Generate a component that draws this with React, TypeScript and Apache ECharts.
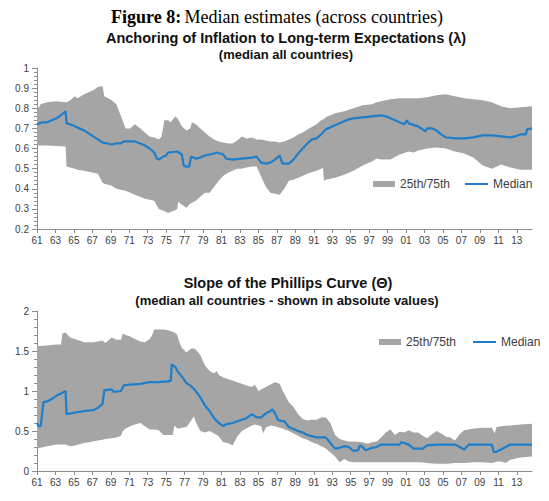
import React, { useEffect, useRef } from "react";
import * as echarts from "echarts";

const BASE_YEAR = 1961;
const END_YEAR = 2014.65;
const xTickYears = [
  1961, 1963, 1965, 1967, 1969, 1971, 1973, 1975, 1977, 1979, 1981, 1983, 1985, 1987,
  1989, 1991, 1993, 1995, 1997, 1999, 2001, 2003, 2005, 2007, 2009, 2011, 2013,
];

// ---- Top chart: Anchoring of inflation (lambda) ----
const topBandYears = [
  1961.0, 1961.4, 1962.1, 1963.1, 1964.1, 1964.2, 1964.6, 1965.1, 1965.4, 1966.1,
  1967.1, 1967.6, 1968.1, 1968.3, 1969.1, 1969.6, 1970.1, 1970.6, 1971.1, 1971.6,
  1972.2, 1972.7, 1973.2, 1973.7, 1974.2, 1974.5, 1974.8, 1975.2, 1975.5, 1976.0,
  1976.2, 1976.3, 1976.7, 1977.2, 1977.6, 1977.8, 1978.2, 1978.7, 1979.2, 1979.7,
  1980.2, 1980.7, 1981.2, 1981.7, 1982.2, 1982.7, 1983.2, 1983.7, 1984.3, 1984.8,
  1985.3, 1985.8, 1986.3, 1986.8, 1987.3, 1987.8, 1988.3, 1988.8, 1989.3, 1989.8,
  1990.3, 1991.3, 1991.8, 1992.0, 1992.1, 1992.3, 1993.3, 1994.3, 1995.3, 1996.3,
  1997.3, 1997.8, 1998.3, 1999.3, 2000.3, 2001.3, 2001.8, 2002.3, 2003.3, 2004.3,
  2005.3, 2006.3, 2007.3, 2008.3, 2009.3, 2010.3, 2011.3, 2012.3, 2013.4, 2014.65,
];
const topUpper = [
  0.79, 0.82, 0.83, 0.835, 0.83, 0.83, 0.84, 0.86, 0.85, 0.87,
  0.89, 0.905, 0.91, 0.86, 0.84, 0.82, 0.76, 0.7, 0.7, 0.72,
  0.7, 0.68, 0.66, 0.655, 0.645, 0.66, 0.74, 0.74, 0.73, 0.76,
  0.75, 0.745, 0.71, 0.69, 0.7, 0.73, 0.72, 0.7, 0.68, 0.66,
  0.645, 0.635, 0.63, 0.625, 0.625, 0.64, 0.66, 0.65, 0.655, 0.645,
  0.645, 0.64, 0.635, 0.635, 0.63, 0.635, 0.645, 0.655, 0.67, 0.68,
  0.695, 0.72, 0.74, 0.745, 0.745, 0.755, 0.775, 0.785, 0.8, 0.815,
  0.82, 0.83, 0.835, 0.845, 0.85, 0.85, 0.85, 0.85, 0.855, 0.865,
  0.87, 0.86, 0.85, 0.845, 0.84, 0.83, 0.81, 0.8, 0.805, 0.81,
];
const topLower = [
  0.615, 0.615, 0.615, 0.613, 0.61, 0.51, 0.505, 0.5, 0.495, 0.49,
  0.48, 0.475, 0.43, 0.425, 0.415, 0.4, 0.395, 0.39, 0.38, 0.37,
  0.36, 0.35, 0.345, 0.34, 0.3, 0.295, 0.29, 0.28, 0.285, 0.295,
  0.3, 0.335, 0.32, 0.305, 0.325, 0.33, 0.34, 0.36, 0.38, 0.38,
  0.41, 0.44, 0.465, 0.48, 0.49, 0.5, 0.5, 0.505, 0.51, 0.51,
  0.46, 0.41, 0.38, 0.375, 0.37, 0.4, 0.44, 0.445, 0.455, 0.465,
  0.475, 0.49, 0.5, 0.505, 0.44, 0.445, 0.455, 0.47, 0.49, 0.515,
  0.535, 0.55, 0.545, 0.545, 0.57, 0.585, 0.58, 0.59, 0.6, 0.605,
  0.6, 0.585, 0.575, 0.555, 0.515, 0.5, 0.52, 0.505, 0.495, 0.495,
];
const topMedYears = [
  1961.0, 1961.6, 1962.1, 1962.6, 1963.1, 1963.6, 1964.1, 1964.2, 1964.6, 1965.1,
  1965.6, 1966.1, 1966.6, 1967.1, 1967.6, 1968.1, 1968.6, 1969.1, 1969.6, 1970.1,
  1970.4, 1971.1, 1971.6, 1972.2, 1972.7, 1973.2, 1973.7, 1974.0, 1974.2, 1974.7,
  1975.0, 1975.2, 1976.2, 1976.7, 1976.9, 1977.2, 1977.5, 1977.7, 1978.2, 1978.7,
  1979.2, 1980.2, 1980.5, 1981.2, 1981.5, 1982.2, 1983.2, 1984.3, 1984.8, 1985.3,
  1985.8, 1986.3, 1986.8, 1987.3, 1987.6, 1988.3, 1988.8, 1989.3, 1990.3, 1990.8,
  1991.3, 1991.8, 1992.3, 1993.3, 1994.3, 1994.8, 1995.3, 1996.3, 1997.3, 1998.3,
  1998.8, 1999.3, 2000.3, 2000.8, 2001.1, 2001.3, 2002.3, 2002.8, 2003.1, 2003.3,
  2003.8, 2004.3, 2004.8, 2005.3, 2006.3, 2007.3, 2008.3, 2009.3, 2010.3, 2011.3,
  2012.3, 2012.8, 2013.4, 2014.0, 2014.1, 2014.65,
];
const topMedian = [
  0.72, 0.73, 0.73, 0.74, 0.75, 0.765, 0.785, 0.725, 0.72, 0.71,
  0.7, 0.69, 0.675, 0.66, 0.645, 0.63, 0.625, 0.62, 0.625, 0.625,
  0.635, 0.635, 0.635, 0.625, 0.615, 0.6, 0.58, 0.55, 0.545, 0.56,
  0.565, 0.58, 0.585, 0.57, 0.515, 0.51, 0.51, 0.56, 0.55, 0.555,
  0.565, 0.575, 0.58, 0.57, 0.55, 0.545, 0.55, 0.555, 0.56, 0.53,
  0.525, 0.53, 0.545, 0.565, 0.525, 0.525, 0.545, 0.575, 0.625, 0.645,
  0.65, 0.67, 0.695, 0.715, 0.735, 0.745, 0.75, 0.755, 0.76, 0.765,
  0.76, 0.75, 0.73, 0.72, 0.74, 0.725, 0.71, 0.695, 0.685, 0.7,
  0.7, 0.69, 0.67, 0.655, 0.65, 0.65, 0.655, 0.665, 0.665, 0.66,
  0.655, 0.66, 0.67, 0.67, 0.695, 0.7,
];

// ---- Bottom chart: Slope of the Phillips curve (theta) ----
const botBandYears = [
  1961.0, 1962.1, 1963.1, 1963.6, 1963.75, 1964.1, 1964.6, 1965.1, 1966.1, 1967.1,
  1967.6, 1968.1, 1968.4, 1969.1, 1969.6, 1970.1, 1970.3, 1970.6, 1971.1, 1971.6,
  1972.2, 1972.7, 1973.2, 1973.5, 1973.7, 1974.2, 1974.7, 1975.2, 1975.7, 1975.9,
  1976.2, 1976.4, 1976.7, 1977.2, 1977.7, 1978.0, 1978.2, 1978.7, 1979.2, 1979.7,
  1980.2, 1980.5, 1980.7, 1981.2, 1981.7, 1982.2, 1982.7, 1983.2, 1983.7, 1984.3,
  1984.6, 1985.0, 1985.3, 1985.5, 1985.8, 1986.3, 1986.8, 1987.3, 1987.6, 1988.3,
  1988.8, 1989.3, 1989.8, 1990.3, 1990.8, 1991.3, 1991.8, 1992.3, 1992.8, 1993.3,
  1993.8, 1994.3, 1994.8, 1995.3, 1996.3, 1996.8, 1997.3, 1997.8, 1998.3, 1998.8,
  1999.3, 1999.8, 2000.3, 2000.8, 2001.3, 2001.8, 2002.3, 2002.8, 2003.3, 2003.8,
  2004.3, 2004.8, 2005.3, 2005.8, 2006.3, 2006.8, 2007.3, 2008.3, 2009.3, 2010.3,
  2010.6, 2010.8, 2011.3, 2011.8, 2012.3, 2013.4, 2014.65,
];
const botUpper = [
  1.56, 1.57, 1.58, 1.58, 1.72, 1.73, 1.67, 1.65, 1.61, 1.61,
  1.62, 1.63, 1.6, 1.67, 1.64, 1.64, 1.72, 1.7, 1.68, 1.65,
  1.62, 1.61, 1.65, 1.7, 1.77, 1.77, 1.77, 1.76, 1.74, 1.73,
  1.7, 1.62, 1.54, 1.48, 1.53, 1.53, 1.52, 1.45, 1.32, 1.25,
  1.22, 1.25, 1.2, 1.17, 1.15, 1.13, 1.11, 1.09, 1.07, 1.05,
  1.08, 1.0, 1.02, 1.03, 1.05, 1.08, 1.11, 1.09, 1.01, 0.86,
  0.8, 0.71, 0.65, 0.63, 0.64, 0.64, 0.67, 0.67, 0.6, 0.45,
  0.4, 0.38, 0.37, 0.37, 0.36, 0.34, 0.36, 0.37, 0.42, 0.48,
  0.52, 0.45, 0.49, 0.48, 0.51, 0.48, 0.48, 0.44, 0.41, 0.46,
  0.5, 0.47, 0.43, 0.42, 0.38, 0.46, 0.51, 0.53, 0.54, 0.54,
  0.47, 0.55, 0.56, 0.565, 0.57, 0.58, 0.59,
];
const botLower = [
  0.28, 0.31, 0.33, 0.33, 0.33, 0.33, 0.31, 0.32, 0.35, 0.37,
  0.38, 0.39, 0.4, 0.41, 0.42, 0.44, 0.5, 0.53, 0.56, 0.58,
  0.6, 0.56, 0.52, 0.52, 0.52, 0.51, 0.45, 0.45, 0.45, 0.57,
  0.53, 0.53, 0.54, 0.55, 0.63, 0.68, 0.62, 0.5, 0.48, 0.5,
  0.47, 0.45, 0.43, 0.36, 0.35, 0.32, 0.43, 0.5, 0.53, 0.57,
  0.58, 0.57, 0.56, 0.47, 0.54, 0.57, 0.56, 0.54, 0.53, 0.5,
  0.47, 0.44, 0.41, 0.39, 0.36, 0.34, 0.31, 0.28, 0.23, 0.18,
  0.11, 0.15, 0.12, 0.11, 0.11, 0.11, 0.11, 0.11, 0.11, 0.11,
  0.11, 0.11, 0.11, 0.11, 0.11, 0.11, 0.11, 0.105, 0.1, 0.095,
  0.09, 0.09, 0.09, 0.095, 0.1, 0.1, 0.1, 0.11, 0.11, 0.1,
  0.11, 0.12, 0.12, 0.1, 0.14, 0.17, 0.18,
];
const botMedYears = [
  1961.0, 1961.2, 1961.4, 1961.7, 1962.1, 1962.6, 1963.1, 1963.6, 1964.1, 1964.2,
  1965.1, 1966.1, 1967.1, 1967.6, 1968.1, 1968.3, 1969.1, 1969.3, 1970.1, 1970.4,
  1971.1, 1972.2, 1973.2, 1974.2, 1975.2, 1975.5, 1975.6, 1976.0, 1976.2, 1976.7,
  1977.2, 1977.7, 1978.2, 1978.7, 1979.2, 1979.7, 1980.2, 1980.7, 1981.2, 1981.4,
  1981.7, 1982.2, 1983.2, 1983.7, 1984.3, 1984.8, 1985.3, 1985.8, 1986.3, 1986.5,
  1986.8, 1987.1, 1987.3, 1987.8, 1988.3, 1989.3, 1989.8, 1990.3, 1991.3, 1992.3,
  1992.8, 1993.3, 1993.8, 1994.3, 1994.8, 1995.3, 1995.8, 1996.0, 1996.3, 1996.6,
  1997.3, 1997.8, 1998.3, 1999.3, 2000.3, 2000.5, 2001.3, 2001.8, 2002.3, 2002.8,
  2003.3, 2004.3, 2005.3, 2006.3, 2006.8, 2007.3, 2007.8, 2008.3, 2009.3, 2010.3,
  2010.5, 2010.8, 2011.3, 2011.8, 2012.3, 2013.4, 2014.65,
];
const botMedian = [
  0.6, 0.56, 0.56, 0.86, 0.87, 0.9, 0.94, 0.97, 1.0, 0.71,
  0.73, 0.75, 0.76, 0.79, 0.84, 1.01, 1.02, 0.99, 1.0, 1.07,
  1.08, 1.09, 1.11, 1.11, 1.12, 1.13, 1.33, 1.3, 1.25, 1.18,
  1.1, 1.06, 1.0, 0.92, 0.82, 0.75, 0.66, 0.6, 0.56, 0.58,
  0.59, 0.6, 0.64, 0.66, 0.71, 0.67, 0.67, 0.72, 0.75, 0.77,
  0.72, 0.64, 0.63, 0.62, 0.55, 0.5, 0.48, 0.45, 0.42, 0.42,
  0.35, 0.28, 0.29, 0.31, 0.3, 0.25, 0.26, 0.32, 0.3, 0.26,
  0.29, 0.3, 0.33, 0.33, 0.33, 0.36, 0.33, 0.28, 0.28, 0.28,
  0.32, 0.33, 0.33, 0.33, 0.3, 0.27, 0.33, 0.33, 0.33, 0.33,
  0.24, 0.24, 0.27, 0.3, 0.33, 0.33, 0.33,
];

const BAND_NAME = "25th/75th";
const MEDIAN_NAME = "Median";
const GREY = "#a5a5a5";
const BLUE = "#1f7ec9";
const AXIS = "#8c8c8c";
const SANS = "'Liberation Sans', Arial, sans-serif";
const SERIF = "'Liberation Serif', 'Times New Roman', serif";

export default function App() {
  const ref = useRef<HTMLDivElement>(null);

  useEffect(() => {
    if (!ref.current) return;
    const chart = echarts.init(ref.current, null, { renderer: "svg" });

    const off = (x: number) => +(x - BASE_YEAR).toFixed(3);
    const pts = (xs: number[], ys: number[]) => xs.map((x, i) => [off(x), ys[i]]);
    const tickValues = xTickYears.map(off);

    const xAxis = (gridIndex: number) => ({
      type: "value",
      gridIndex,
      min: 0,
      max: off(END_YEAR),
      interval: 2,
      axisLine: { show: true, onZero: false, lineStyle: { color: AXIS, width: 1 } },
      axisTick: { show: true, length: 4, lineStyle: { color: AXIS }, customValues: tickValues },
      splitLine: { show: false },
      axisLabel: {
        color: "#404040",
        fontSize: 10,
        fontFamily: SANS,
        margin: 6,
        customValues: tickValues,
        formatter: (v: number) => String((BASE_YEAR + Math.round(v)) % 100).padStart(2, "0"),
      },
    });

    const yAxis = (gridIndex: number, min: number, max: number, interval: number) => ({
      type: "value",
      gridIndex,
      min,
      max,
      interval,
      axisLine: { show: true, lineStyle: { color: AXIS, width: 1 } },
      axisTick: { show: true, length: 5, lineStyle: { color: AXIS } },
      minorTick: { show: true, splitNumber: 5, length: 3, lineStyle: { color: AXIS } },
      splitLine: { show: false },
      minorSplitLine: { show: false },
      axisLabel: {
        color: "#404040",
        fontSize: 10,
        fontFamily: SANS,
        margin: 8,
        formatter: (v: number) => String(+v.toFixed(2)),
      },
    });

    const bandSeries = (idx: number, xs: number[], up: number[], lo: number[]) => ({
      name: BAND_NAME,
      type: "custom",
      xAxisIndex: idx,
      yAxisIndex: idx,
      silent: true,
      clip: true,
      z: 1,
      itemStyle: { color: GREY },
      data: xs.map((x, i) => [off(x), lo[i], up[i]]),
      encode: { x: 0, y: [1, 2] },
      renderItem: (params: any, api: any) => {
        if (params.dataIndex !== 0) return null;
        const top = xs.map((x, i) => api.coord([off(x), up[i]]));
        const bot = xs.map((x, i) => api.coord([off(x), lo[i]])).reverse();
        return {
          type: "polygon",
          silent: true,
          shape: { points: top.concat(bot) },
          style: { fill: GREY, stroke: null },
        };
      },
    });

    const medianSeries = (idx: number, xs: number[], ys: number[]) => ({
      name: MEDIAN_NAME,
      type: "line",
      xAxisIndex: idx,
      yAxisIndex: idx,
      data: pts(xs, ys),
      symbol: "none",
      silent: true,
      lineStyle: { color: BLUE, width: 2.2 },
      itemStyle: { color: BLUE },
      z: 3,
    });

    const legendText = { color: "#404040", fontSize: 12, fontFamily: SANS };
    const bandLegend = (left: number, top: number) => ({
      left,
      top,
      orient: "horizontal",
      padding: 0,
      selectedMode: false,
      itemWidth: 22,
      itemHeight: 6,
      textStyle: legendText,
      data: [{ name: BAND_NAME, icon: "rect", itemStyle: { color: GREY, borderWidth: 0 } }],
    });
    const medLegend = (left: number, top: number) => ({
      left,
      top,
      orient: "horizontal",
      padding: 0,
      selectedMode: false,
      itemWidth: 23,
      itemHeight: 2,
      textStyle: legendText,
      data: [{ name: MEDIAN_NAME, icon: "rect", itemStyle: { color: BLUE, borderWidth: 0 } }],
    });

    const titleText = (x: number, y: number, text: string, size: number) => ({
      type: "text",
      x,
      y,
      silent: true,
      style: {
        text,
        fill: "#111111",
        font: `bold ${size}px ${SANS}`,
        textAlign: "center",
        textVerticalAlign: "middle",
      },
    });

    chart.setOption({
      animation: false,
      backgroundColor: "#ffffff",
      grid: [
        { left: 37, right: 17, top: 68, height: 161 },
        { left: 37, right: 17, top: 311, height: 160 },
      ],
      xAxis: [xAxis(0), xAxis(1)],
      yAxis: [yAxis(0, 0.2, 1, 0.1), yAxis(1, 0, 2, 0.5)],
      legend: [
        bandLegend(373, 178),
        medLegend(465, 178),
        bandLegend(379, 336),
        medLegend(473, 336),
      ],
      graphic: [
        {
          type: "text",
          x: 277,
          y: 17,
          silent: true,
          style: {
            text: "{b|Figure 8:} {n|Median estimates (across countries)}",
            textAlign: "center",
            textVerticalAlign: "middle",
            rich: {
              b: { fontFamily: SERIF, fontWeight: "bold", fontSize: 18, fill: "#000" },
              n: { fontFamily: SERIF, fontSize: 18, fill: "#000" },
            },
          },
        },
        titleText(286, 38, "Anchoring of Inflation to Long-term Expectations (λ)", 14.5),
        titleText(286, 54, "(median all countries)", 13),
        titleText(288, 283, "Slope of the Phillips Curve (Θ)", 14.5),
        titleText(287, 300, "(median all countries - shown in absolute values)", 13),
      ],
      series: [
        bandSeries(0, topBandYears, topUpper, topLower),
        medianSeries(0, topMedYears, topMedian),
        bandSeries(1, botBandYears, botUpper, botLower),
        medianSeries(1, botMedYears, botMedian),
      ],
    });

    return () => chart.dispose();
  }, []);

  return (
    <div
      ref={ref}
      style={{ position: "fixed", left: 0, top: 0, width: 549, height: 501, background: "#fff" }}
    />
  );
}
